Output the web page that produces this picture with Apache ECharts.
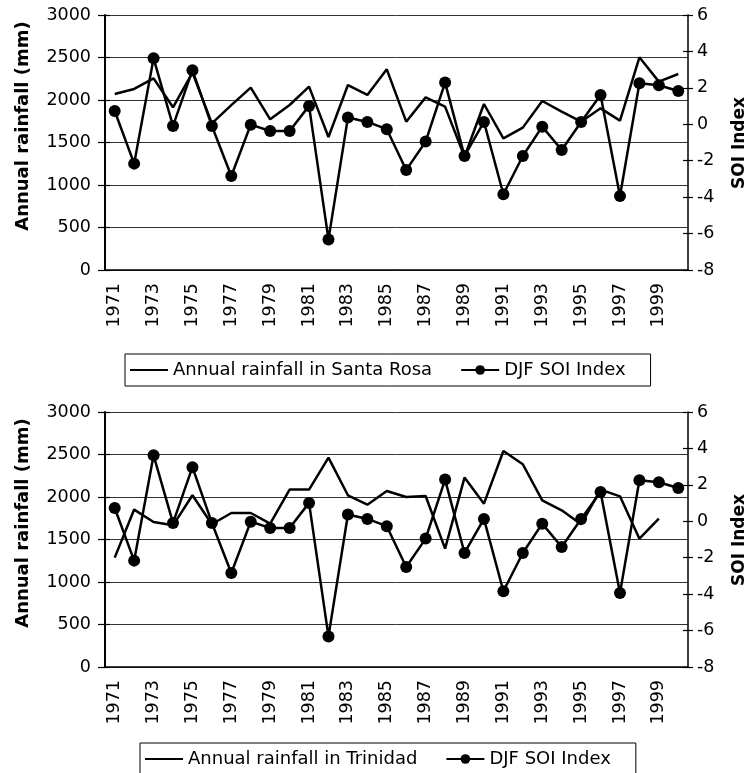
<!DOCTYPE html>
<html><head><meta charset="utf-8">
<script src="https://cdn.jsdelivr.net/npm/echarts@6/dist/echarts.min.js"></script>
<style>html,body{margin:0;padding:0;background:#fff}#c{width:748px;height:773px}</style>
</head><body><div id="c"></div>
<script>
const years = ['1971','1972','1973','1974','1975','1976','1977','1978','1979','1980','1981','1982','1983','1984','1985','1986','1987','1988','1989','1990','1991','1992','1993','1994','1995','1996','1997','1998','1999','2000'];
const rainSantaRosa = [2070,2130,2255,1914,2322,1725,1940,2145,1773,1941,2157,1565,2176,2059,2361,1745,2031,1922,1333,1953,1549,1675,1988,1863,1745,1902,1757,2502,2216,2306];
const rainTrinidad = [1287,1852,1706,1667,2020,1679,1812,1812,1687,2087,2087,2463,2020,1910,2071,2000,2012,1393,2228,1922,2541,2385,1961,1843,1679,2087,2008,1510,1746,null];
const soiDJF = [0.73,-2.16,3.62,-0.09,2.97,-0.09,-2.84,-0.02,-0.37,-0.37,1.01,-6.32,0.37,0.13,-0.27,-2.51,-0.95,2.29,-1.74,0.13,-3.84,-1.74,-0.13,-1.41,0.13,1.61,-3.94,2.25,2.14,1.83];
const rainTicks = {min:0, max:3000, interval:500};
const soiTicks = {min:-8, max:6, interval:2};
const rainTitle = 'Annual rainfall (mm)';
const soiTitle = 'SOI Index';
const soiName = 'DJF SOI Index';
const stationNames = ['Annual rainfall in Santa Rosa', 'Annual rainfall in Trinidad'];
const rainSets = [rainSantaRosa, rainTrinidad];

const FONT = 'DejaVu Sans';
const chart = echarts.init(document.getElementById('c'), null, {renderer:'canvas'});
const gridTops = [15, 412];
const grid = gridTops.map(t => ({left:105, right:60, top:t, height:255}));
const xAxis = [], yAxis = [], series = [], legend = [], graphic = [];
const lab = {color:'#000', fontFamily:FONT, fontSize:17.5};
const plain = v => String(v);

gridTops.forEach((t, gi) => {
  xAxis.push({type:'category', gridIndex:gi, data:years, boundaryGap:true,
    axisLine:{lineStyle:{color:'#000', width:1.5}},
    axisTick:{interval:0, length:6, lineStyle:{color:'#000', width:1.2}},
    axisLabel:Object.assign({interval:1, rotate:90, margin:13}, lab),
    splitLine:{show:false}});
  const yb = gi*4;
  yAxis.push({type:'value', gridIndex:gi, position:'left', ...rainTicks,
    axisLine:{show:true, lineStyle:{color:'#000', width:2}},
    axisTick:{show:true, length:7, lineStyle:{color:'#000', width:1.2}},
    axisLabel:Object.assign({margin:14, formatter:plain}, lab),
    splitLine:{show:true, lineStyle:{color:'#333', width:1}}});
  yAxis.push({type:'value', gridIndex:gi, position:'right', ...soiTicks,
    axisLine:{show:true, lineStyle:{color:'#000', width:1.5}},
    axisTick:{show:true, length:5, lineStyle:{color:'#000', width:1.2}},
    axisLabel:Object.assign({margin:9, formatter:plain}, lab),
    splitLine:{show:false}});
  yAxis.push({type:'value', gridIndex:gi, position:'left', ...rainTicks,
    axisLine:{show:false}, axisTick:{show:true, inside:true, length:5, lineStyle:{color:'#000', width:1.2}},
    axisLabel:{show:false}, splitLine:{show:false}});
  yAxis.push({type:'value', gridIndex:gi, position:'right', ...soiTicks,
    axisLine:{show:false}, axisTick:{show:true, inside:true, length:5, lineStyle:{color:'#000', width:1.2}},
    axisLabel:{show:false}, splitLine:{show:false}});
  series.push({name:stationNames[gi], type:'line', xAxisIndex:gi, yAxisIndex:yb,
    data:rainSets[gi], symbol:'none', connectNulls:false,
    lineStyle:{color:'#000', width:2.5}, itemStyle:{color:'#000'}, z:3});
  series.push({name:soiName, type:'line', xAxisIndex:gi, yAxisIndex:yb+1,
    data:soiDJF, symbol:'circle', symbolSize:12,
    lineStyle:{color:'#000', width:2.5}, itemStyle:{color:'#000'}, z:4});
  legend.push({data:[{name:stationNames[gi], itemStyle:{opacity:0}}, soiName],
    left: gi===0 ? 125 : 140, top: gi===0 ? 354 : 743,
    orient:'horizontal', borderColor:'#000', borderWidth:1, borderRadius:0,
    padding:[7,25,7,4], itemWidth:38, itemHeight:12, itemGap:28,
    textStyle:{fontFamily:FONT, fontSize:18, color:'#000'}});
  graphic.push({type:'text', x:23, y:t+111, rotation:Math.PI/2,
    style:{text:rainTitle, font:'bold 18px "DejaVu Sans"', fill:'#000', align:'center', verticalAlign:'middle'}});
  graphic.push({type:'text', x:740, y:t+128, rotation:Math.PI/2,
    style:{text:soiTitle, font:'bold 17px "DejaVu Sans"', fill:'#000', align:'center', verticalAlign:'middle'}});
});

chart.setOption({animation:false, backgroundColor:'#fff', grid, xAxis, yAxis, series, legend, graphic});
</script>
</body></html>
